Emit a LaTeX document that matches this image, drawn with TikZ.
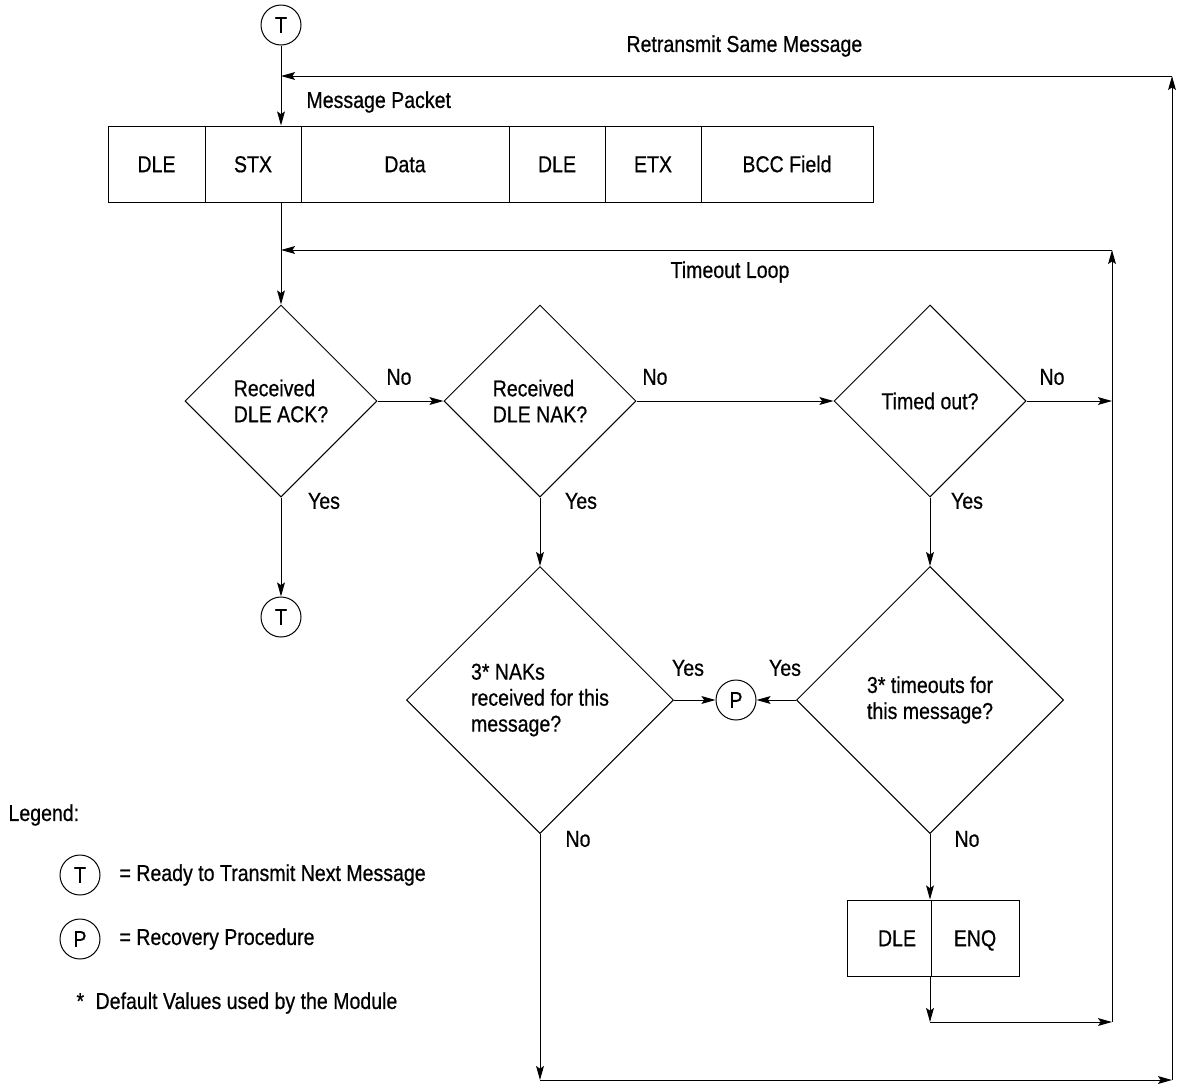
\documentclass[tikz,border=0pt]{standalone}
\usepackage{fontspec}
\setmainfont{Liberation Sans}[FakeStretch=0.85,FakeBold=0.6]
\usetikzlibrary{shapes.geometric,arrows.meta}
\begin{document}
\begin{tikzpicture}[x=0.5pt,y=-0.5pt,
  every node/.style={font=\fontsize{11.5}{13}\selectfont},
  every path/.style={line width=0.5pt},
  arr/.style={-{Stealth[length=7pt,width=3.9pt,inset=1.3pt]}},
  conn/.style={draw,circle,minimum size=20pt,inner sep=0pt},
  cell/.style={draw,rectangle,minimum height=38pt,inner sep=0pt,text height=8.2pt,text depth=0pt},
  dec/.style={draw,diamond,aspect=1,inner sep=0pt,align=left},
  lbl/.style={inner sep=0pt}]
\path[use as bounding box] (0,0) rectangle (1177,1088);

% top T connector
\node[conn] (T1) at (281,25) {T};

% message packet
\node[cell,minimum width=48.5pt] (c1) at (156.5,164) {DLE};
\node[cell,minimum width=48pt] (c2) at (253,164) {STX};
\node[cell,minimum width=104pt] (c3) at (405,164) {Data};
\node[cell,minimum width=48pt] (c4) at (557,164) {DLE};
\node[cell,minimum width=48pt] (c5) at (653,164) {ETX};
\node[cell,minimum width=86pt] (c6) at (787,164) {BCC Field};

% decisions
\node[dec,minimum size=96pt] (d1) at (281,401) {Received\\DLE ACK?};
\node[dec,minimum size=96pt] (d2) at (540,401) {Received\\DLE NAK?};
\node[dec,minimum size=96pt] (d3) at (930,401) {Timed out?};
\node[dec,minimum size=133.5pt] (d4) at (540,700) {3* NAKs\\received for this\\message?};
\node[dec,minimum size=133.5pt] (d5) at (930,700) {3* timeouts for\\this message?};

\node[conn] (T2) at (281,617) {T};
\node[conn] (P) at (736,700) {P};

% DLE ENQ
\node[cell,minimum width=42pt] (e1) at (889,938) {\hspace{8pt}DLE};
\node[cell,minimum width=44pt] (e2) at (975,938) {ENQ};

% loop corners
\coordinate (rt) at (1172,76);
\coordinate (rb) at (1172,1080);
\coordinate (lt) at (1112,250);
\coordinate (lb) at (1112,1022);

% connectors
\draw[arr] (T1.south) -- (T1.south |- c2.north);
\draw[arr] (d1.north |- c2.south) -- (d1.north);
\draw[arr] (d1.east) -- (d2.west);
\draw[arr] (d2.east) -- (d3.west);
\draw[arr] (d3.east) -- (d3.east -| lt);
\draw[arr] (d1.south) -- (T2.north);
\draw[arr] (d2.south) -- (d4.north);
\draw[arr] (d3.south) -- (d5.north);
\draw[arr] (d4.east) -- (P.west);
\draw[arr] (d5.west) -- (P.east);
\draw[arr] (d5.south) -- (d5.south |- e1.north);
\draw[arr] (d5.south |- e1.south) -- (d5.south |- lb);
\draw[arr] (d5.south |- lb) -- (lb);
\draw[arr] (lb) -- (lt);
\draw[arr] (lt) -- (d1.north |- lt);
\draw[arr] (d4.south) -- (d4.south |- rb);
\draw[arr] (d4.south |- rb) -- (rb);
\draw[arr] (rb) -- (rt);
\draw[arr] (rt) -- (T1.south |- rt);

% labels
\node[lbl,anchor=west] (lmp) at (306,102) {Message Packet};
\node[lbl,anchor=west] (lrs) at (626,46) {Retransmit Same Message};
\node[lbl] (lto) at (730,272) {Timeout Loop};
\node[lbl] (n1) at (399,377) {No};
\node[lbl] (n2) at (655,377) {No};
\node[lbl] (n3) at (1052,377) {No};
\node[lbl] (y1) at (324,501) {Yes};
\node[lbl] (y2) at (581,501) {Yes};
\node[lbl] (y3) at (967,501) {Yes};
\node[lbl] (y4) at (688,668) {Yes};
\node[lbl] (y5) at (785,668) {Yes};
\node[lbl] (n4) at (578,839) {No};
\node[lbl] (n5) at (967,839) {No};

% legend
\node[lbl,anchor=west] (lg) at (8,815) {Legend:};
\node[conn] (LT) at (80,875) {T};
\node[lbl,anchor=west] (lgt) at (119,875) {= Ready to Transmit Next Message};
\node[conn] (LP) at (80,939) {P};
\node[lbl,anchor=west] (lgp) at (119,939) {= Recovery Procedure};
\node[lbl,anchor=west] (lgs) at (76,1003) {*\enspace Default Values used by the Module};
\end{tikzpicture}
\end{document}
